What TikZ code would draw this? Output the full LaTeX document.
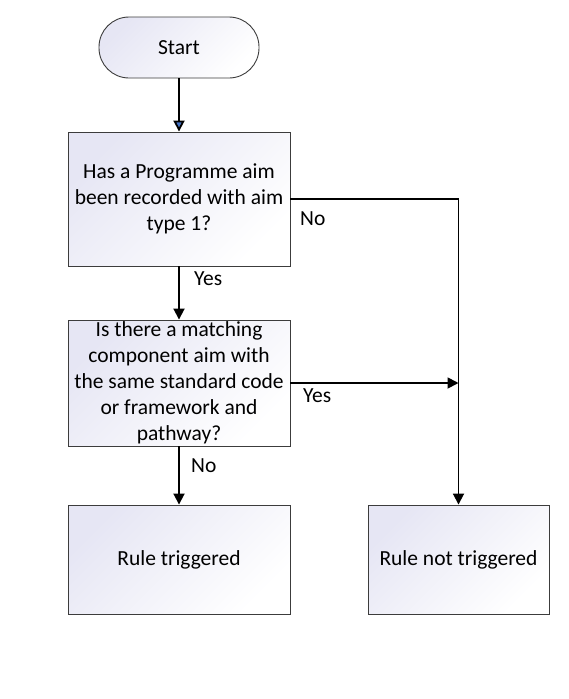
\documentclass[tikz,border=0pt]{standalone}
\usepackage{fontspec}
\setmainfont{Carlito}
\usepackage{xcolor}
\usetikzlibrary{arrows.meta}
\definecolor{boxshade}{RGB}{230,230,244}
\definecolor{boxline}{RGB}{60,60,60}
\definecolor{tipblue}{RGB}{68,114,196}
\tikzset{
  flowbox/.style={draw=boxline, line width=0.9pt, top color=boxshade, bottom color=white,
    shading angle=45, align=center, inner sep=0pt,
    font=\fontsize{21.5}{26}\selectfont},
  startbox/.style={flowbox, rounded corners=30pt, minimum width=160pt, minimum height=61pt},
  flowline/.style={line width=1.8pt, -{Triangle[width=11pt,length=11pt]}},
  flowlabel/.style={anchor=west, inner sep=0pt, font=\fontsize{21.5}{26}\selectfont}
}
\begin{document}
\begin{tikzpicture}[x=1pt, y=-1pt]
\useasboundingbox (0,0) rectangle (568,699);

% boxes
\node[startbox] (start) at (179,47.5) {Start};
\node[flowbox, minimum width=222pt, minimum height=134pt] (aimrec) at (179,199)
  {Has a Programme aim\\been recorded with aim\\type 1?};
\node[flowbox, minimum width=222pt, minimum height=126pt] (match) at (179,383)
  {Is there a matching\\component aim with\\the same standard code\\or framework and\\pathway?};
\node[flowbox, minimum width=222pt, minimum height=109pt] (trig) at (179,559.5) {Rule triggered};
\node[flowbox, minimum width=181pt, minimum height=109pt] (notrig) at (458.5,559.5) {Rule not triggered};

% connectors
\draw[line width=1.8pt, -{Triangle[width=11pt,length=11pt,fill=tipblue]}] (start) -- (aimrec);
\draw[flowline] (aimrec) -- (match);
\draw[flowline] (match) -- (trig);
\draw[flowline] (aimrec.east) -| (notrig.north);
\coordinate (joinpt) at (match.east -| notrig.north);
\draw[flowline] (match.east) -- (joinpt);

% labels
\node[flowlabel] (yesa) at (194,279) {Yes};
\node[flowlabel] (noa) at (300,219) {No};
\node[flowlabel] (yesb) at (303,396) {Yes};
\node[flowlabel] (nob) at (191,466) {No};

\end{tikzpicture}
\end{document}
